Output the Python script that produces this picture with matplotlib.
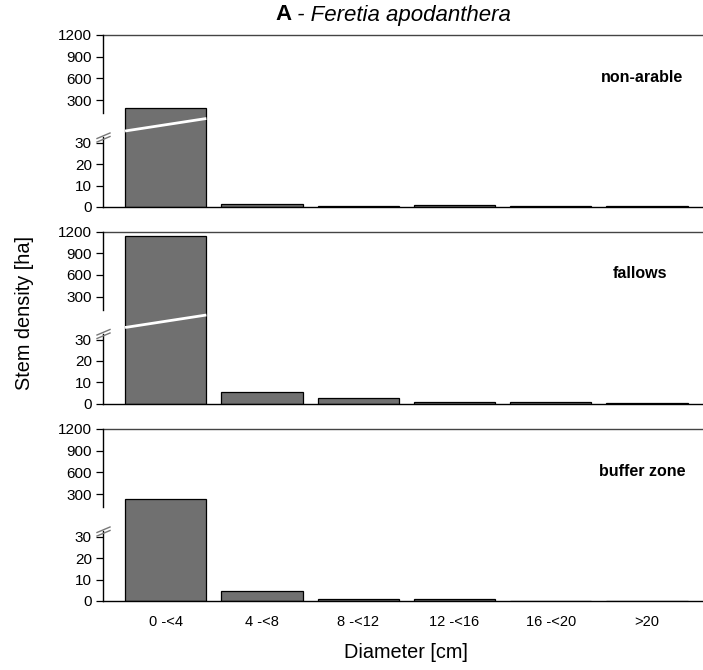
import numpy as np
import matplotlib
matplotlib.use("Agg")
import matplotlib.pyplot as plt
import matplotlib.transforms as mtransforms

plt.rcParams["font.family"] = ["Liberation Sans", "DejaVu Sans"]

# Stem density per diameter class for each land-use type
classes = ["0 -<4", "4 -<8", "8 -<12", "12 -<16", "16 -<20", ">20"]
non_arable = [190, 1.6, 0.3, 0.8, 0.3, 0.3]
fallows = [1140, 5.2, 2.8, 0.5, 0.5, 0.2]
buffer_zone = [230, 4.5, 1.1, 0.8, 0.2, 0.2]

panel_names = ["non-arable", "fallows", "buffer zone"]
panel_label_x = [0.900, 0.896, 0.901]
lower_ticks = [0, 10, 20, 30]
upper_ticks = [300, 600, 900, 1200]

# broken axis: 0-35 on a fine scale, above that a coarse scale
LOW_CUT = 35.0
LOW_K = 64.0 / 30.0
UP_K = 65.0 / 900.0
UP_300 = 107.0
F_TOP = UP_300 + (1200 - 300) * UP_K


def forward(v):
    v = np.asarray(v, dtype=float)
    return np.where(v <= LOW_CUT, v * LOW_K, UP_300 + (v - 300) * UP_K)


def inverse(f):
    f = np.asarray(f, dtype=float)
    f_jump = UP_300 + (LOW_CUT - 300) * UP_K
    return np.where(f <= LOW_CUT * LOW_K, f / LOW_K,
                    np.where(f < f_jump, LOW_CUT, 300 + (f - UP_300) / UP_K))


fig = plt.figure(figsize=(7.03, 6.70), dpi=100)
W, H = 703.0, 670.0
ax_left, ax_right = 103 / W, 702 / W
bottoms_px = [207, 403.5, 601]
height = 172 / H

data = [non_arable, fallows, buffer_zone]
x = np.arange(len(classes))
axes = []
for i, (vals, name) in enumerate(zip(data, panel_names)):
    b = 1 - bottoms_px[i] / H
    ax = fig.add_axes([ax_left, b, ax_right - ax_left, height])
    axes.append(ax)
    ax.set_yscale("function", functions=(forward, inverse))
    ax.bar(x, vals, width=0.845, color="#707070", edgecolor="black",
           linewidth=0.9, zorder=2)
    ax.set_xlim(-0.652, 5.573)
    ax.set_ylim(0, 1200)
    ax.set_yticks(lower_ticks + upper_ticks)
    ax.set_yticklabels([str(t) for t in lower_ticks + upper_ticks], fontsize=11)
    ax.tick_params(axis="y", direction="out", length=5, width=0.9, pad=3)
    ax.tick_params(axis="x", length=0, pad=10)
    ax.set_xticks(x)
    if i < 2:
        ax.set_xticklabels([])
    else:
        ax.set_xticklabels(classes, fontsize=10.5)

    ax.spines["right"].set_visible(False)
    ax.spines["left"].set_visible(False)
    ax.spines["top"].set_color("#444444")
    ax.spines["top"].set_linewidth(1.0)
    ax.spines["bottom"].set_linewidth(1.0)

    # left spine in two pieces with a gap at the break
    ax_frac = lambda f: f / F_TOP
    ax.plot([0, 0], [0, ax_frac(70)], color="black", lw=1.0,
            transform=ax.transAxes, clip_on=False, zorder=3)
    ax.plot([0, 0], [ax_frac(94), 1], color="black", lw=1.0,
            transform=ax.transAxes, clip_on=False, zorder=3)
    # break marks on the axis
    for off in (0, 3.5):
        ax.plot([-0.010, 0.0117], [ax_frac(65 + off), ax_frac(70.5 + off)],
                color="#777777", lw=1.0, transform=ax.transAxes,
                clip_on=False, zorder=3)

    # white cut across the tall bar
    if i < 2:
        trans = mtransforms.blended_transform_factory(ax.transData, ax.transAxes)
        ax.plot([x[0] - 0.4225, x[0] + 0.4225], [ax_frac(76), ax_frac(88.5)],
                color="white", lw=2.0, transform=trans, zorder=4,
                solid_capstyle="butt")

    ax.text(panel_label_x[i], ax_frac(129.5), name, transform=ax.transAxes,
            ha="center", va="center", fontsize=11.5, fontweight="bold")

# title: bold panel letter followed by italic species name
title_a = fig.text(275 / W, 1 - 15 / H, "A", fontsize=16, fontweight="bold",
                   ha="left", va="center")
axes[0].annotate(" - Feretia apodanthera", xy=(1, 0.5), xycoords=title_a,
                 ha="left", va="center", fontsize=16, style="italic")

fig.text(25 / W, 1 - 313 / H, "Stem density [ha]", rotation=90,
         ha="center", va="center", fontsize=14.3)
fig.text(406 / W, 1 - 652 / H, "Diameter [cm]", ha="center", va="center",
         fontsize=14.3)

fig.savefig("out.png", dpi=100)
